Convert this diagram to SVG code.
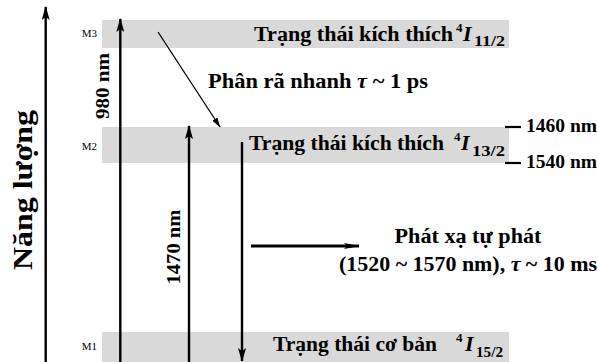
<svg xmlns="http://www.w3.org/2000/svg" width="598" height="362" viewBox="0 0 598 362">
<style>
.band{fill:#d9d9d9}
.t{font-family:"Liberation Serif","Times New Roman",serif;font-weight:bold;fill:#000}
.m{font-family:"Liberation Serif","Times New Roman",serif;font-size:11px;fill:#000}
.main{font-size:21px}
.big{font-size:22px}
.sup{font-size:13px;font-style:normal}
.sub{font-size:15px}
.it{font-style:italic}
.ax{stroke:#000;stroke-width:2.4;fill:none}
.thin{stroke:#000;stroke-width:1.3;fill:none}
</style>
<defs>
<marker id="ah" viewBox="0 0 14 8" refX="13" refY="4" markerWidth="14" markerHeight="8" markerUnits="userSpaceOnUse" orient="auto">
<path d="M0,0 L14,4 L0,8 L3,4 Z" fill="#000"/>
</marker>
<marker id="ah2" viewBox="0 0 16 6" refX="15" refY="3" markerWidth="16" markerHeight="6" markerUnits="userSpaceOnUse" orient="auto">
<path d="M0,0 L16,3 L0,6 L3,3 Z" fill="#000"/>
</marker>
<marker id="ah3" viewBox="0 0 10 6" refX="9.5" refY="3" markerWidth="10" markerHeight="6" markerUnits="userSpaceOnUse" orient="auto">
<path d="M0,0 L10,3 L0,6 Z" fill="#000"/>
</marker>
</defs>

<g id="M3">
<rect class="band" x="102" y="20" width="407" height="28"/>
<text class="m" x="97" y="37" text-anchor="end">M3</text>
<text class="t main" x="254" y="41" textLength="199" lengthAdjust="spacingAndGlyphs">Trạng thái kích thích</text>
<text class="t sup" x="456" y="32">4</text>
<text class="t big it" x="463" y="41">I</text>
<text class="t sub" x="474" y="46" textLength="31" lengthAdjust="spacingAndGlyphs">11/2</text>
</g>

<g id="M2">
<rect class="band" x="102" y="127" width="407" height="36"/>
<text class="m" x="97" y="150" text-anchor="end">M2</text>
<text class="t main" x="249" y="150" textLength="195" lengthAdjust="spacingAndGlyphs">Trạng thái kích thích</text>
<text class="t sup" x="454" y="141">4</text>
<text class="t big it" x="461" y="150">I</text>
<text class="t sub" x="472" y="156" textLength="33" lengthAdjust="spacingAndGlyphs">13/2</text>
</g>

<g id="M1">
<rect class="band" x="102" y="332" width="407" height="30"/>
<text class="m" x="97" y="350" text-anchor="end">M1</text>
<text class="t main" x="273" y="351" textLength="164" lengthAdjust="spacingAndGlyphs">Trạng thái cơ bản</text>
<text class="t sup" x="456" y="342">4</text>
<text class="t big it" x="465" y="351">I</text>
<text class="t sub" x="476" y="357" textLength="27" lengthAdjust="spacingAndGlyphs">15/2</text>
</g>

<g id="levels">
<line x1="505" y1="127" x2="521" y2="127" stroke="#000" stroke-width="2.2"/>
<text class="t" x="526" y="132" font-size="18" textLength="71" lengthAdjust="spacingAndGlyphs">1460 nm</text>
<line x1="505" y1="163" x2="521" y2="163" stroke="#000" stroke-width="2.2"/>
<text class="t" x="526" y="168" font-size="18" textLength="71" lengthAdjust="spacingAndGlyphs">1540 nm</text>
</g>

<g id="labels">
<text class="t" transform="translate(32,190) rotate(-90)" font-size="27" text-anchor="middle" textLength="160" lengthAdjust="spacingAndGlyphs">Năng lượng</text>
<text class="t" transform="translate(109,86) rotate(-90)" font-size="19" text-anchor="middle" textLength="66" lengthAdjust="spacingAndGlyphs">980 nm</text>
<text class="t" transform="translate(180,247) rotate(-90)" font-size="19" text-anchor="middle" textLength="75" lengthAdjust="spacingAndGlyphs">1470 nm</text>
<text class="t main" x="208" y="88" textLength="220" lengthAdjust="spacingAndGlyphs">Phân rã nhanh <tspan class="it">τ</tspan> ~ 1 ps</text>
<text class="t main" x="468" y="243" text-anchor="middle" textLength="147" lengthAdjust="spacingAndGlyphs">Phát xạ tự phát</text>
<text class="t main" x="339" y="271" textLength="258" lengthAdjust="spacingAndGlyphs">(1520 ~ 1570 nm), <tspan class="it">τ</tspan> ~ 10 ms</text>
</g>

<g id="connectors">
<line class="ax" x1="45.7" y1="362" x2="45.7" y2="7" marker-end="url(#ah)"/>
<line class="ax" x1="120.3" y1="362" x2="120.3" y2="19" marker-end="url(#ah)"/>
<line class="ax" x1="189" y1="362" x2="189" y2="126" marker-end="url(#ah)"/>
<line class="ax" x1="242" y1="142" x2="242" y2="361" marker-end="url(#ah)"/>
<line x1="251" y1="246" x2="359" y2="246" stroke="#000" stroke-width="3" marker-end="url(#ah2)"/>
<line class="thin" x1="158" y1="32" x2="220" y2="127" marker-end="url(#ah3)"/>
</g>
</svg>
